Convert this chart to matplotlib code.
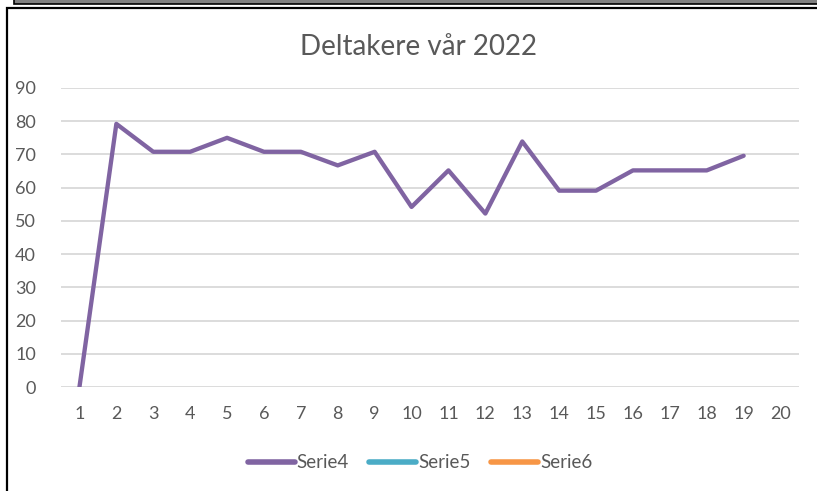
import numpy as np
import matplotlib
matplotlib.use("Agg")
import matplotlib.pyplot as plt
from matplotlib.patches import Rectangle
from matplotlib.lines import Line2D

plt.rcParams['font.family'] = ['Lato', 'DejaVu Sans']

categories = list(range(1, 21))
serie4 = [0, 79.2, 70.8, 70.8, 75.0, 70.8, 70.8, 66.7, 70.8, 54.2,
          65.2, 52.2, 73.9, 59.1, 59.1, 65.2, 65.2, 65.2, 69.6]
serie5 = []
serie6 = []
yticks = list(range(0, 100, 10))

W, H = 817, 491
fig = plt.figure(figsize=(W / 100, H / 100), dpi=100)

# frame around the chart (screenshot borders)
fig.patches.append(Rectangle((6.5 / W, -0.05), 1.2, (H - 8.5) / H + 0.05,
                             transform=fig.transFigure, fill=False,
                             edgecolor='black', lw=1.6))
fig.patches.append(Rectangle((14 / W, (H - 3.5) / H), 1.2, 0.05,
                             transform=fig.transFigure, facecolor='#808080',
                             edgecolor='black', lw=1.2))

ax = fig.add_axes([61 / W, (H - 387) / H, (799 - 61) / W, (387 - 88) / H])
x = np.arange(1, len(serie4) + 1)
ax.plot(x, serie4, color='#8064A2', lw=3.1, solid_joinstyle='round',
        solid_capstyle='round', label='Serie4')

ax.set_xlim(0.5, 20.5)
ax.set_ylim(0, 90)
ax.set_yticks(yticks)
ax.set_xticks(categories)
ax.grid(axis='y', color='#d9d9d9', lw=1.3)
ax.set_axisbelow(True)
for s in ax.spines.values():
    s.set_visible(False)
ax.tick_params(length=0, labelsize=13, labelcolor='#595959')
ax.tick_params(axis='x', pad=14)
ax.tick_params(axis='y', pad=18)

fig.text(419 / W, (H - 47) / H, 'Deltakere vår 2022', ha='center',
         va='center', fontsize=20, color='#595959')

handles = [Line2D([], [], color=c, lw=4, solid_capstyle='round')
           for c in ['#8064A2', '#4BACC6', '#F79646']]
fig.legend(handles, ['Serie4', 'Serie5', 'Serie6'], loc='center',
           bbox_to_anchor=(420 / W, (H - 463) / H), ncol=3, frameon=False,
           fontsize=13.5, labelcolor='#595959', handlelength=2.5,
           handletextpad=0.1, columnspacing=1.1)

fig.savefig('out.png', dpi=100)
